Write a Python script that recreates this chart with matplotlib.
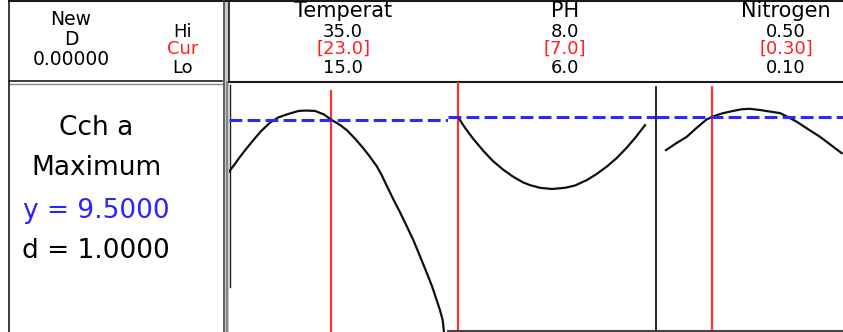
import matplotlib
matplotlib.use("Agg")
import matplotlib.pyplot as plt

# header data
factors = ["Temperat", "PH", "Nitrogen"]
hi_vals = ["35.0", "8.0", "0.50"]
cur_vals = ["[23.0]", "[7.0]", "[0.30]"]
lo_vals = ["15.0", "6.0", "0.10"]
cur_x = [23.0, 7.0, 0.30]

response = "Cch a"
goal = "Maximum"
y_text = "y = 9.5000"
d_text = "d = 1.0000"
desirability = "0.00000"
y_target = 9.5

# predicted response curves
temp_x = [15.00, 15.47, 15.86, 16.41, 16.91, 17.51, 18.22, 18.84, 19.53, 20.44,
          21.04, 21.75, 22.45, 23.00, 23.71, 24.23, 24.88, 25.54, 26.06, 26.59,
          26.98, 27.37, 27.86, 28.41, 28.94, 29.46, 29.98, 30.51, 30.92, 31.29,
          31.55, 31.76, 31.86]
temp_y = [8.16, 8.36, 8.54, 8.77, 8.97, 9.20, 9.42, 9.55, 9.63, 9.72,
          9.73, 9.72, 9.63, 9.50, 9.36, 9.23, 9.01, 8.76, 8.54, 8.30,
          8.07, 7.80, 7.47, 7.12, 6.76, 6.40, 5.99, 5.56, 5.22, 4.86,
          4.60, 4.35, 4.05]
ph_x = [7.000, 7.037, 7.080, 7.134, 7.187, 7.241, 7.294, 7.348, 7.385, 7.439,
        7.503, 7.572, 7.626, 7.690, 7.743, 7.797, 7.850, 7.904, 7.952, 8.000]
ph_y = [9.50, 9.23, 8.95, 8.64, 8.37, 8.15, 7.97, 7.82, 7.75, 7.68,
        7.65, 7.68, 7.74, 7.88, 8.04, 8.23, 8.45, 8.72, 8.99, 9.29]
nit_x = [0.100, 0.143, 0.190, 0.233, 0.277, 0.300, 0.322, 0.349, 0.387, 0.429,
         0.465, 0.509, 0.552, 0.596, 0.630, 0.668, 0.717, 0.770, 0.817, 0.864]
nit_y = [8.65, 8.82, 8.99, 9.22, 9.44, 9.50, 9.55, 9.60, 9.65, 9.70,
         9.71, 9.68, 9.64, 9.60, 9.50, 9.38, 9.19, 8.99, 8.78, 8.57]

W, H = 843, 332
fig = plt.figure(figsize=(W / 100, H / 100), dpi=100)

# frame / text layer in pixel units
bg = fig.add_axes([0, 0, 1, 1])
bg.set_xlim(0, W); bg.set_ylim(H, 0); bg.axis("off")
dark = "#1a1a1a"
bg.plot([9, W], [1, 1], color=dark, lw=1.5)
bg.plot([9, 222], [81, 81], color=dark, lw=1.2)
bg.plot([9, 222], [83.5, 83.5], color="#888888", lw=1.0)
bg.plot([229, W], [81.5, 81.5], color=dark, lw=1.5)
bg.plot([9, 9], [0, H], color=dark, lw=1.2)
bg.fill_between([224.5, 228.5], 0, H, color="#c8c8c8", lw=0)
bg.plot([224, 224], [0, H], color="#444444", lw=1.2)
bg.plot([229, 229], [0, 82], color=dark, lw=1.2)
bg.plot([227, 227], [82, H], color="#777777", lw=1.2)
bg.plot([229.5, 229.5], [85, 287], color=dark, lw=1.0)

fs_h = 13
bg.text(71, 25, "New", ha="center", va="baseline", fontsize=fs_h + 0.5)
bg.text(71, 45, "D", ha="center", va="baseline", fontsize=fs_h + 0.5)
bg.text(71, 65, desirability, ha="center", va="baseline", fontsize=fs_h + 0.5)
bg.text(183, 37, "Hi", ha="center", va="baseline", fontsize=fs_h)
bg.text(183, 54, "Cur", ha="center", va="baseline", fontsize=fs_h, color="#ff2020")
bg.text(183, 73, "Lo", ha="center", va="baseline", fontsize=fs_h)

col_x = [343, 565, 786]
for cx, name, hi, cur, lo in zip(col_x, factors, hi_vals, cur_vals, lo_vals):
    bg.text(cx, 17, name, ha="center", va="baseline", fontsize=15)
    bg.text(cx, 37, hi, ha="center", va="baseline", fontsize=fs_h)
    bg.text(cx, 54, cur, ha="center", va="baseline", fontsize=fs_h, color="#ff2020")
    bg.text(cx, 73, lo, ha="center", va="baseline", fontsize=fs_h)

fs_b = 19
bg.text(96, 135, response, ha="center", va="baseline", fontsize=fs_b)
bg.text(96, 175, goal, ha="center", va="baseline", fontsize=fs_b)
bg.text(96, 218, y_text, ha="center", va="baseline", fontsize=fs_b, color="#2a22ff")
bg.text(96, 258, d_text, ha="center", va="baseline", fontsize=fs_b)


def panel(x0, x1, y0, y1):
    return fig.add_axes([x0 / W, 1 - y1 / H, (x1 - x0) / W, (y1 - y0) / H])


panels = [
    (panel(229, 448, 82, 350), temp_x, temp_y, (15.0, 32.18), (3.576, 10.464), 0.966),
    (panel(448, 656, 82, 331), ph_x, ph_y, (6.947, 8.059), (4.0, 10.4), 1.0),
    (panel(656, 864, 82, 331), nit_x, nit_y, (0.0565, 0.9609), (4.0, 10.4), 0.98),
]

for i, (ax, xs, ys, xl, yl, rtop) in enumerate(panels):
    ax.patch.set_alpha(0)
    ax.set_xlim(*xl); ax.set_ylim(*yl)
    ax.set_xticks([]); ax.set_yticks([])
    for s in ax.spines.values():
        s.set_visible(False)
    if i > 0:
        ax.spines["bottom"].set_visible(True)
        ax.spines["bottom"].set_color("#444444")
        ax.spines["bottom"].set_linewidth(1.5)
    if i == 2:
        ax.spines["left"].set_visible(True)
        ax.spines["left"].set_bounds(yl[0], 10.27)
        ax.spines["left"].set_linewidth(1.2)
    ax.plot(xs, ys, color="#111111", lw=1.6, zorder=3)
    ax.axvline(cur_x[i], ymin=0, ymax=rtop, color="#ff3030", lw=1.6, zorder=2)
    ax.axhline(y_target, color="#2a2aff", lw=2.2, dashes=(4.2, 1.7), zorder=4)

fig.savefig("out.png", dpi=100)
